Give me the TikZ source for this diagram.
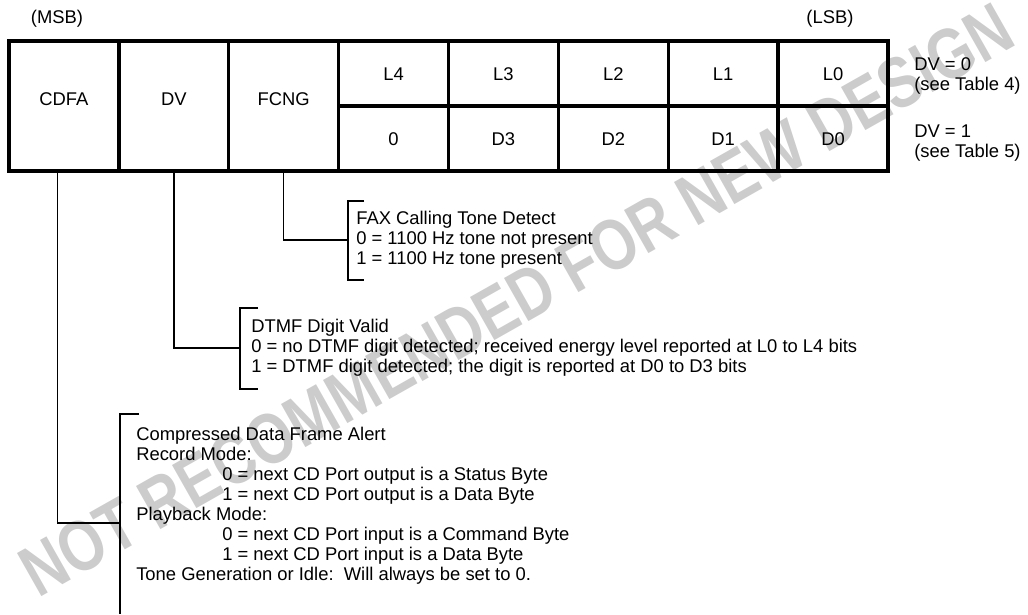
\documentclass[tikz,border=0pt]{standalone}
\usepackage{fontspec}
\setmainfont{Liberation Sans}

\begin{document}
\begin{tikzpicture}[x=0.75pt,y=-0.75pt,font=\fontsize{13.8pt}{15pt}\selectfont]
\tikzstyle{cell} = [draw,line width=2.5pt,minimum width=82.4pt,inner sep=0pt,text height=9.9pt,text depth=0pt]
\tikzstyle{tall} = [cell,minimum height=97.5pt,text depth=11.4pt]
\tikzstyle{half} = [cell,minimum height=48.75pt]
\tikzstyle{lead} = [line width=1.1pt]
\tikzstyle{note} = [anchor=north west,align=left,inner sep=0pt]
\tikzstyle{wm} = [rotate=29.5,xscale=0.8,transform shape,inner sep=0pt,text=black!20,font=\bfseries\fontsize{54pt}{54pt}\selectfont]
\useasboundingbox (0,0) rectangle (1028,614);
\node[wm] (wmark) at (516,300) {NOT RECOMMENDED FOR NEW DESIGN};
\node[anchor=base] (msb) at (57,23) {(MSB)};
\node[anchor=base] (lsb) at (830,23) {(LSB)};
\node[tall] (cdfa) at (63.94,106) {CDFA};
\node[tall] (dv) at (173.81,106) {DV};
\node[tall] (fcng) at (283.69,106) {FCNG};
\node[half] (l4) at (393.56,73.5) {L4};
\node[half] (l3) at (503.44,73.5) {L3};
\node[half] (l2) at (613.31,73.5) {L2};
\node[half] (l1) at (723.19,73.5) {L1};
\node[half] (l0) at (833.06,73.5) {L0};
\node[half] (d4) at (393.56,138.5) {0};
\node[half] (d3) at (503.44,138.5) {D3};
\node[half] (d2) at (613.31,138.5) {D2};
\node[half] (d1) at (723.19,138.5) {D1};
\node[half] (d0) at (833.06,138.5) {D0};
\node[note] (dvzero) at (914,57) {DV = 0\\(see Table 4)};
\node[note] (dvone) at (914,125) {DV = 1\\(see Table 5)};
\node[note] (fcngtxt) at (356,211) {FAX Calling Tone Detect\\0 = 1100 Hz tone not present\\1 = 1100 Hz tone present};
\node[note] (dvtxt) at (251,319) {DTMF Digit Valid\\0 = no DTMF digit detected; received energy level reported at L0 to L4 bits\\1 = DTMF digit detected; the digit is reported at D0 to D3 bits};
\node[note] (cdfatxt) at (136,427) {Compressed Data Frame Alert\\Record Mode:\\\hspace*{64.5pt}0 = next CD Port output is a Status Byte\\\hspace*{64.5pt}1 = next CD Port output is a Data Byte\\Playback Mode:\\\hspace*{64.5pt}0 = next CD Port input is a Command Byte\\\hspace*{64.5pt}1 = next CD Port input is a Data Byte\\Tone Generation or Idle:\ \ Will always be set to 0.};
\coordinate (fcngbr) at (348,240);
\coordinate (dvbr) at (240,348);
\coordinate (cdfabr) at (120,523);
\draw[lead] (fcng.south) |- (fcngbr);
\draw[lead] (dv.south) |- (dvbr);
\draw[lead] ([xshift=-5pt]cdfa.south) |- (cdfabr);
\draw[lead] (364,201) -- (348,201) -- (348,280) -- (364,280);
\draw[lead] (258,308) -- (240,308) -- (240,389) -- (258,389);
\draw[lead] (139,414) -- (120,414) -- (120,614);
\end{tikzpicture}
\end{document}
